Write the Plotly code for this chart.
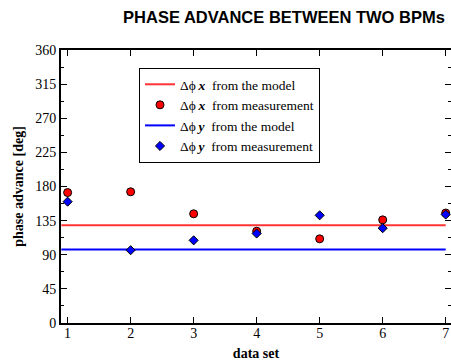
import plotly.graph_objects as go

data_sets = [1, 2, 3, 4, 5, 6, 7]
dphix_meas = [172, 173, 144, 121, 111, 136, 145]
dphiy_meas = [160, 96, 109, 118, 142, 125, 143]
model_x_range = [0.9, 7.0]
dphix_model = 129
dphiy_model = 97
y_ticks = [0, 45, 90, 135, 180, 225, 270, 315, 360]

serif = "Liberation Serif, Times New Roman, serif"
lab = lambda v: "Δϕ\u202f<b><i>" + v + "</i></b>\u00a0\u00a0from "

fig = go.Figure()
fig.add_trace(go.Scatter(x=model_x_range, y=[dphix_model] * 2, mode="lines",
                         line=dict(color="#ff3333", width=2),
                         name=lab("x") + "the model"))
fig.add_trace(go.Scatter(x=data_sets, y=dphix_meas, mode="markers",
                         marker=dict(symbol="circle", size=8, color="#ff0000",
                                     line=dict(color="black", width=1)),
                         name=lab("x") + "measurement"))
fig.add_trace(go.Scatter(x=model_x_range, y=[dphiy_model] * 2, mode="lines",
                         line=dict(color="#0000ff", width=2),
                         name=lab("y") + "the model"))
fig.add_trace(go.Scatter(x=data_sets, y=dphiy_meas, mode="markers",
                         marker=dict(symbol="diamond", size=7, color="#0000ff",
                                     line=dict(color="black", width=1)),
                         name=lab("y") + "measurement"))

axis_common = dict(showgrid=False, zeroline=False, showline=True, linecolor="black",
                   linewidth=2, mirror="allticks", ticks="inside", tickcolor="black",
                   automargin=False,
                   tickfont=dict(family=serif, size=14, color="black"))

fig.update_xaxes(range=[0.895, 7.084], tickvals=data_sets, ticklen=6, tickwidth=1,
                 ticklabelstandoff=-4,
                 title=dict(text="<b>data set</b>", font=dict(family=serif, size=14, color="black"),
                            standoff=8),
                 **axis_common)
fig.update_yaxes(range=[0, 360], tickvals=y_ticks, ticklen=6, tickwidth=1,
                 minor=dict(dtick=22.5, ticks="inside", ticklen=3, tickcolor="black", tickwidth=1),
                 title=dict(text="<b>phase advance [deg]</b>",
                            font=dict(family=serif, size=14, color="black"), standoff=8),
                 **axis_common)

fig.update_layout(
    width=451, height=361,
    margin=dict(l=61, r=0, t=50, b=38, autoexpand=False),
    paper_bgcolor="white", plot_bgcolor="white",
    title=dict(text="<b>PHASE ADVANCE BETWEEN TWO BPMs</b>",
               font=dict(family="Liberation Sans, Arial, sans-serif", size=16.5, color="black"),
               x=284 / 451, xanchor="center", xref="container", y=1 - 17 / 361,
               yanchor="middle", yref="container"),
    legend=dict(x=0.2, y=0.934, xanchor="left", yanchor="top",
                bordercolor="black", borderwidth=1, bgcolor="white",
                font=dict(family=serif, size=13.5, color="black"),
                tracegroupgap=0, itemwidth=30),
    showlegend=True,
)

fig.write_html("out.html", config={"displayModeBar": False},
               post_script="document.body.style.margin='0';")
